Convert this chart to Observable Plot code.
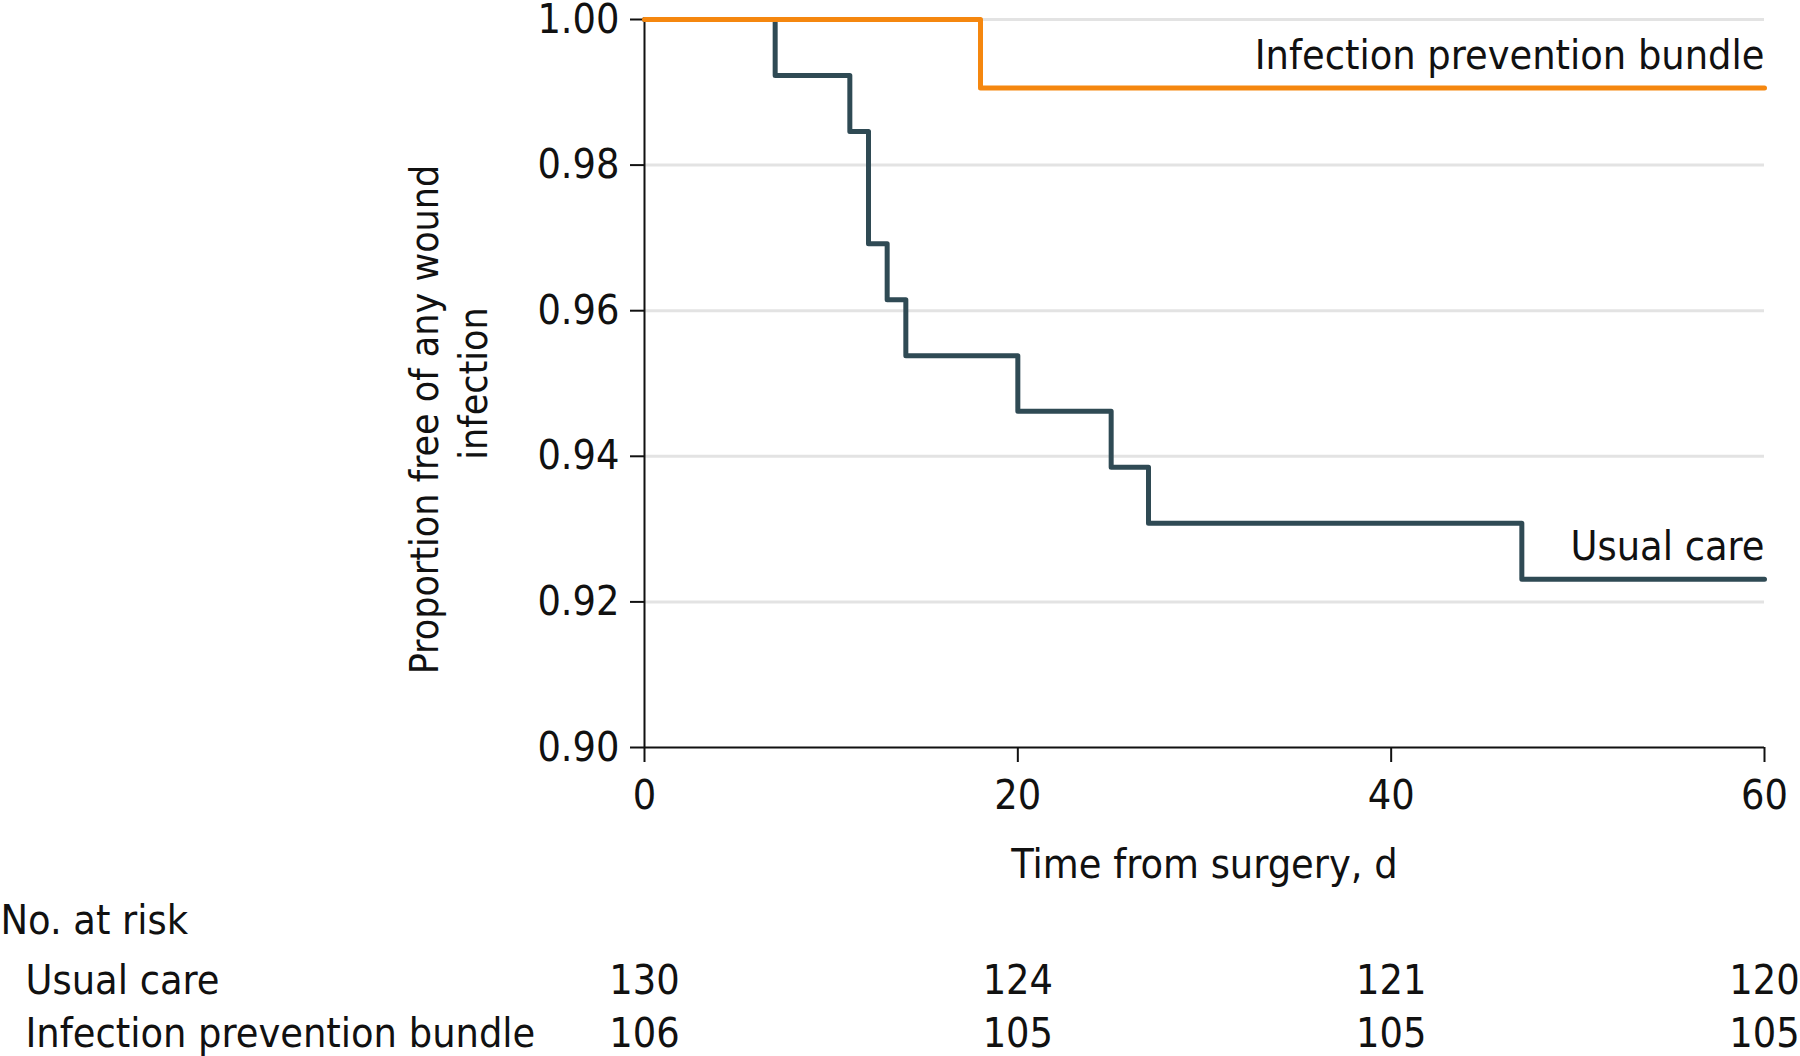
<!DOCTYPE html>
<html>
<head>
<meta charset="utf-8">
<script src="https://cdn.jsdelivr.net/npm/d3@7"></script>
<script src="https://cdn.jsdelivr.net/npm/@observablehq/plot@0.6"></script>
<style>
  body { margin: 0; background: #ffffff; }
  #chart svg { font-family: "DejaVu Sans Condensed", "DejaVu Sans", sans-serif; font-stretch: condensed; }
</style>
</head>
<body>
<div id="chart"></div>
<script>
// Kaplan-Meier steps (time in days, proportion free of any wound infection)
const usualTimes = [0, 7, 11, 12, 13, 14, 20, 25, 27, 47, 60];
const usualSurv  = [1.0, 0.9923, 0.9846, 0.9692, 0.9615, 0.9538, 0.9462, 0.9385, 0.9308, 0.9231, 0.9231];
const bundleTimes = [0, 18, 60];
const bundleSurv  = [1.0, 0.9906, 0.9906];

const groupNames = ["Usual care", "Infection prevention bundle"];

// Axes
const xTicks = [0, 20, 40, 60];
const yTicks = [0.90, 0.92, 0.94, 0.96, 0.98, 1.00];
const xLabel = "Time from surgery, d";
const yLabelLines = ["Proportion free of any wound", "infection"];

// Number at risk table
const riskTitle = "No. at risk";
const riskTimes  = [0, 20, 40, 60];
const riskUsual  = [130, 124, 121, 120];
const riskBundle = [106, 105, 105, 105];

const usualData = usualTimes.map((t, i) => ({t, s: usualSurv[i]}));
const bundleData = bundleTimes.map((t, i) => ({t, s: bundleSurv[i]}));
const endLabels = [
  {t: usualTimes[usualTimes.length - 1], s: usualSurv[usualSurv.length - 1], label: groupNames[0]},
  {t: bundleTimes[bundleTimes.length - 1], s: bundleSurv[bundleSurv.length - 1], label: groupNames[1]}
];

const FS = 41;
const ML = 644;
const ink = "#111111";

const plot = Plot.plot({
  width: 1800,
  height: 1056,
  marginLeft: ML,
  marginRight: 36,
  marginTop: 19,
  marginBottom: 309,
  style: {fontSize: FS + "px", background: "#ffffff", color: ink, overflow: "visible"},
  x: {domain: [0, 60]},
  y: {domain: [0.9, 1.0]},
  marks: [
    Plot.gridY(yTicks.filter(v => v > 0.9), {stroke: "#e3e3e3", strokeOpacity: 1, strokeWidth: 3}),
    Plot.axisX({ticks: xTicks, tickSize: 15, tickPadding: 17, label: null, fontSize: FS, stroke: ink, strokeWidth: 2}),
    Plot.axisY({ticks: yTicks, tickSize: 14, tickPadding: 11, tickFormat: d3.format(".2f"), label: null, fontSize: FS, stroke: ink, strokeWidth: 2}),
    Plot.ruleY([0.9], {stroke: ink, strokeWidth: 2}),
    Plot.ruleX([0], {stroke: ink, strokeWidth: 2}),
    Plot.line(usualData, {x: "t", y: "s", curve: "step-after", stroke: "#2f4a54", strokeWidth: 5}),
    Plot.line(bundleData, {x: "t", y: "s", curve: "step-after", stroke: "#f5870f", strokeWidth: 5}),
    Plot.text(endLabels, {x: "t", y: "s", text: "label", textAnchor: "end", lineAnchor: "middle", dy: -32, fontSize: FS, fill: ink}),
    // axis titles
    Plot.text([xLabel], {frameAnchor: "bottom", text: d => d, lineAnchor: "middle", dy: 117, fontSize: FS, fill: ink}),
    Plot.text([yLabelLines[0]], {frameAnchor: "left", text: d => d, rotate: -90, textAnchor: "middle", lineAnchor: "top", dx: -234, dy: 36, fontSize: 39, fill: ink}),
    Plot.text([yLabelLines[1]], {frameAnchor: "left", text: d => d, rotate: -90, textAnchor: "middle", lineAnchor: "top", dx: -185, dy: 0, fontSize: 39, fill: ink}),
    // number at risk table
    Plot.text([riskTitle], {frameAnchor: "bottom-left", text: d => d, textAnchor: "start", lineAnchor: "middle", dx: -ML, dy: 173, fontSize: FS, fill: ink}),
    Plot.text([groupNames[0]], {frameAnchor: "bottom-left", text: d => d, textAnchor: "start", lineAnchor: "middle", dx: -ML + 25, dy: 233, fontSize: FS, fill: ink}),
    Plot.text([groupNames[1]], {frameAnchor: "bottom-left", text: d => d, textAnchor: "start", lineAnchor: "middle", dx: -ML + 25, dy: 286, fontSize: FS, fill: ink}),
    Plot.text(riskTimes, {x: d => d, text: (d, i) => String(riskUsual[i]), frameAnchor: "bottom", lineAnchor: "middle", dy: 233, fontSize: FS, fill: ink}),
    Plot.text(riskTimes, {x: d => d, text: (d, i) => String(riskBundle[i]), frameAnchor: "bottom", lineAnchor: "middle", dy: 286, fontSize: FS, fill: ink})
  ]
});
document.getElementById("chart").appendChild(plot);
</script>
</body>
</html>
